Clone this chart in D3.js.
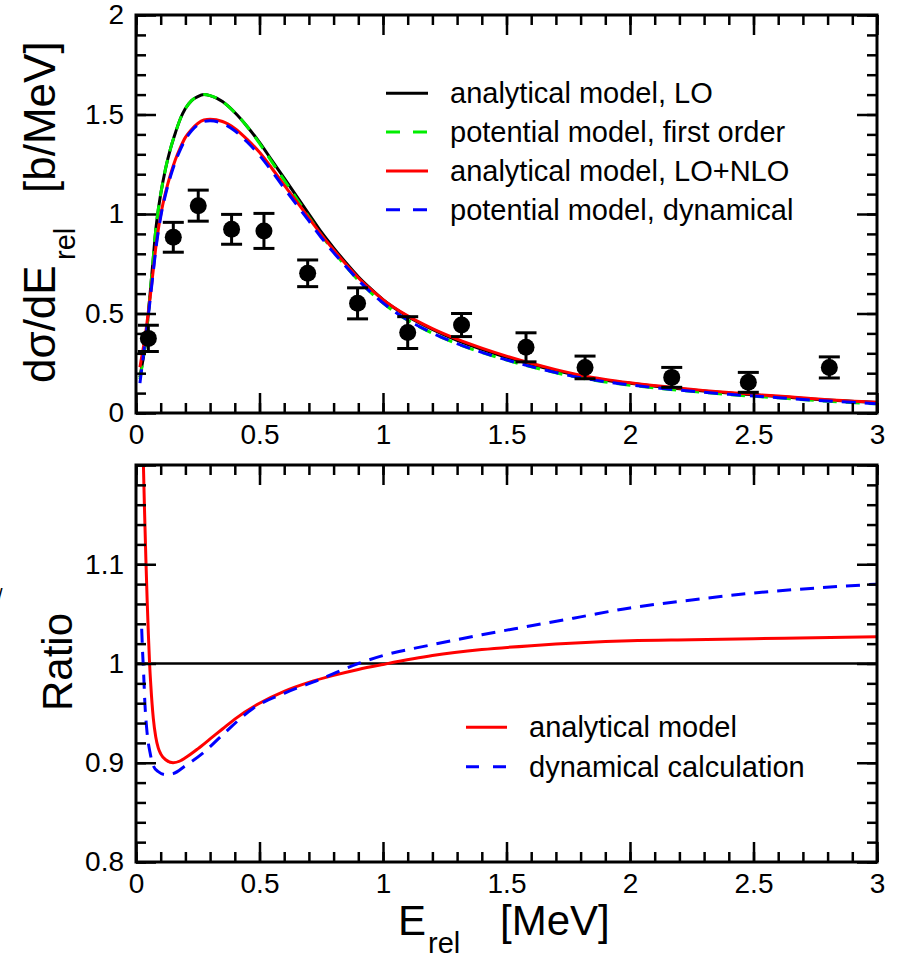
<!DOCTYPE html>
<html>
<head>
<meta charset="utf-8">
<script src="https://cdn.jsdelivr.net/npm/d3@7"></script>
<style>
  body { margin: 0; background: #fff; }
  svg { font-family: "Liberation Sans", Arial, Helvetica, sans-serif; }
</style>
</head>
<body>
<svg id="chart" width="899" height="956"></svg>
<script>
// measured points: E_rel (MeV), dsigma/dE (b/MeV), error
var dataE   = [0.05, 0.151, 0.252, 0.387, 0.518, 0.695, 0.897, 1.10, 1.318, 1.579, 1.818, 2.169, 2.479, 2.807];
var dataY   = [0.375, 0.883, 1.042, 0.923, 0.915, 0.702, 0.551, 0.404, 0.442, 0.330, 0.229, 0.179, 0.154, 0.229];
var dataErr = [0.066, 0.075, 0.078, 0.075, 0.088, 0.067, 0.078, 0.080, 0.058, 0.073, 0.057, 0.050, 0.050, 0.053];

// theory curves, top panel
var curveE = [0.016, 0.02, 0.03, 0.04, 0.05, 0.06, 0.07, 0.08, 0.09, 0.10, 0.12, 0.14, 0.16, 0.18, 0.20, 0.225, 0.25, 0.275,
  0.30, 0.35, 0.40, 0.45, 0.50, 0.55, 0.60, 0.65, 0.70, 0.75, 0.80, 0.85, 0.90, 0.95, 1.00, 1.10, 1.20, 1.30, 1.40, 1.50,
  1.60, 1.70, 1.80, 1.90, 2.00, 2.20, 2.40, 2.60, 2.80, 3.00];
var analyticalLO = [0.18, 0.21, 0.28, 0.37, 0.50, 0.64, 0.78, 0.92, 1.02, 1.10, 1.23, 1.33, 1.41, 1.48, 1.53, 1.57, 1.59, 1.60,
  1.595, 1.565, 1.51, 1.44, 1.36, 1.27, 1.18, 1.09, 1.00, 0.91, 0.83, 0.755, 0.685, 0.625, 0.57, 0.485, 0.42, 0.365, 0.32, 0.28,
  0.245, 0.213, 0.186, 0.165, 0.149, 0.122, 0.100, 0.083, 0.065, 0.053];
var potentialFirst = [0.17, 0.20, 0.28, 0.37, 0.50, 0.64, 0.78, 0.92, 1.02, 1.10, 1.23, 1.33, 1.41, 1.48, 1.53, 1.57, 1.59, 1.60,
  1.595, 1.565, 1.51, 1.44, 1.355, 1.262, 1.17, 1.078, 0.985, 0.895, 0.812, 0.736, 0.667, 0.606, 0.552, 0.466, 0.401, 0.348, 0.304, 0.266,
  0.232, 0.202, 0.176, 0.156, 0.140, 0.114, 0.093, 0.076, 0.059, 0.046];
var analyticalNLO = [0.23, 0.26, 0.33, 0.41, 0.51, 0.61, 0.72, 0.83, 0.92, 0.995, 1.11, 1.20, 1.275, 1.335, 1.385, 1.425, 1.455, 1.472,
  1.476, 1.465, 1.43, 1.375, 1.31, 1.23, 1.145, 1.063, 0.98, 0.896, 0.82, 0.748, 0.68, 0.622, 0.57, 0.488, 0.424, 0.371, 0.326, 0.286,
  0.25, 0.218, 0.19, 0.169, 0.152, 0.125, 0.103, 0.085, 0.067, 0.054];
var potentialDyn = [0.15, 0.19, 0.29, 0.39, 0.49, 0.60, 0.71, 0.82, 0.91, 0.985, 1.10, 1.19, 1.265, 1.325, 1.375, 1.418, 1.448, 1.465,
  1.468, 1.455, 1.418, 1.362, 1.295, 1.215, 1.13, 1.047, 0.965, 0.882, 0.806, 0.736, 0.668, 0.607, 0.553, 0.467, 0.402, 0.349, 0.305, 0.267,
  0.233, 0.203, 0.177, 0.157, 0.141, 0.115, 0.094, 0.077, 0.060, 0.047];

// ratio panel
var ratioAnaE = [0.025, 0.03, 0.035, 0.04, 0.045, 0.05, 0.055, 0.06, 0.07, 0.08, 0.09, 0.10, 0.12, 0.15, 0.18, 0.20, 0.25, 0.30,
  0.35, 0.40, 0.50, 0.60, 0.70, 0.80, 0.90, 1.00, 1.20, 1.40, 1.60, 1.80, 2.00, 2.25, 2.50, 2.75, 3.00];
var ratioAna = [1.27, 1.20, 1.15, 1.105, 1.065, 1.03, 1.00, 0.978, 0.945, 0.926, 0.915, 0.909, 0.903, 0.900, 0.902, 0.905, 0.914, 0.924,
  0.934, 0.944, 0.960, 0.972, 0.981, 0.988, 0.994, 0.999, 1.008, 1.014, 1.018, 1.021, 1.023, 1.024, 1.025, 1.026, 1.027];
var ratioDynE = [0.023, 0.027, 0.03, 0.036, 0.045, 0.057, 0.07, 0.09, 0.12, 0.15, 0.20, 0.272, 0.35, 0.475, 0.60, 0.745, 0.90, 1.00,
  1.20, 1.40, 1.60, 1.80, 2.00, 2.25, 2.50, 2.75, 3.00];
var ratioDyn = [1.035, 1.01, 0.995, 0.96, 0.93, 0.91, 0.897, 0.891, 0.888, 0.889, 0.897, 0.91, 0.928, 0.955, 0.970, 0.984, 1.000, 1.008,
  1.019, 1.029, 1.038, 1.047, 1.056, 1.064, 1.071, 1.076, 1.080];

var xTicks = [0, 0.5, 1, 1.5, 2, 2.5, 3];
var topYTicks = [0, 0.5, 1, 1.5, 2];
var botYTicks = [0.8, 0.9, 1, 1.1, 1.2];
var botYLabels = ["0.8", "0.9", "1", "1.1", ""];

var topLegend = ["analytical model, LO", "potential model, first order", "analytical model, LO+NLO", "potential model, dynamical"];
var botLegend = ["analytical model", "dynamical calculation"];

var svg = d3.select("#chart");
var left = 136, right = 877;
var x = d3.scaleLinear().domain([0, 3]).range([left, right]);
var yTop = d3.scaleLinear().domain([0, 2]).range([413, 15]);
var yBot = d3.scaleLinear().domain([0.8, 1.2]).range([862, 465]);

var xMinor = d3.range(0, 31).map(function(i) { return i / 10; });

// draws the frame + inward ticks for one panel
function frame(y, yMajor, yMinor, yFmt) {
  var g = svg.append("g");
  var y0 = y.range()[0], y1 = y.range()[1];

  function style(a) {
    a.select(".domain").remove();
    a.selectAll("line").attr("stroke", "#000").attr("stroke-width", 2.5);
    a.selectAll("text").attr("font-size", 28).attr("fill", "#000")
      .attr("font-family", "'Liberation Sans', Arial, sans-serif");
  }
  g.append("g").attr("transform", "translate(0," + y0 + ")")
    .call(d3.axisBottom(x).tickValues(xTicks).tickSize(-20).tickPadding(11).tickFormat(function(d) { return d; })).call(style);
  g.append("g").attr("transform", "translate(0," + y0 + ")")
    .call(d3.axisBottom(x).tickValues(xMinor).tickSize(-10).tickFormat("")).call(style);
  g.append("g").attr("transform", "translate(0," + y1 + ")")
    .call(d3.axisTop(x).tickValues(xTicks).tickSize(-20).tickFormat("")).call(style);
  g.append("g").attr("transform", "translate(0," + y1 + ")")
    .call(d3.axisTop(x).tickValues(xMinor).tickSize(-10).tickFormat("")).call(style);

  g.append("g").attr("transform", "translate(" + left + ",0)")
    .call(d3.axisLeft(y).tickValues(yMajor).tickSize(-20).tickPadding(12).tickFormat(yFmt)).call(style);
  g.append("g").attr("transform", "translate(" + left + ",0)")
    .call(d3.axisLeft(y).tickValues(yMinor).tickSize(-10).tickFormat("")).call(style);
  g.append("g").attr("transform", "translate(" + right + ",0)")
    .call(d3.axisRight(y).tickValues(yMajor).tickSize(-20).tickFormat("")).call(style);
  g.append("g").attr("transform", "translate(" + right + ",0)")
    .call(d3.axisRight(y).tickValues(yMinor).tickSize(-10).tickFormat("")).call(style);

  g.append("rect").attr("x", left).attr("y", y1).attr("width", right - left).attr("height", y0 - y1)
    .attr("fill", "none").attr("stroke", "#000").attr("stroke-width", 3);
}

function clip(id, y) {
  svg.append("clipPath").attr("id", id).append("rect")
    .attr("x", left).attr("y", y.range()[1]).attr("width", right - left).attr("height", y.range()[0] - y.range()[1]);
}
clip("clipTop", yTop);
clip("clipBot", yBot);

function curve(xs, ys, y, color, dash, clipId) {
  var line = d3.line().x(function(d) { return x(d[0]); }).y(function(d) { return y(d[1]); }).curve(d3.curveMonotoneX);
  svg.append("path").datum(d3.zip(xs, ys))
    .attr("d", line).attr("fill", "none").attr("stroke", color).attr("stroke-width", 3)
    .attr("stroke-dasharray", dash).attr("clip-path", "url(#" + clipId + ")");
}

// ---- top panel ----
curve(curveE, analyticalLO, yTop, "#000", null, "clipTop");
curve(curveE, potentialFirst, yTop, "#00ee00", "14,9", "clipTop");
curve(curveE, analyticalNLO, yTop, "#ff0000", null, "clipTop");
curve(curveE, potentialDyn, yTop, "#0000ff", "14,9", "clipTop");

var pts = svg.append("g").selectAll("g").data(d3.range(dataE.length)).enter().append("g");
pts.append("line")
  .attr("x1", function(i) { return x(dataE[i]); }).attr("x2", function(i) { return x(dataE[i]); })
  .attr("y1", function(i) { return yTop(dataY[i] - dataErr[i]); }).attr("y2", function(i) { return yTop(dataY[i] + dataErr[i]); })
  .attr("stroke", "#000").attr("stroke-width", 3);
[-1, 1].forEach(function(s) {
  pts.append("line")
    .attr("x1", function(i) { return x(dataE[i]) - 10.5; }).attr("x2", function(i) { return x(dataE[i]) + 10.5; })
    .attr("y1", function(i) { return yTop(dataY[i] + s * dataErr[i]); }).attr("y2", function(i) { return yTop(dataY[i] + s * dataErr[i]); })
    .attr("stroke", "#000").attr("stroke-width", 3);
});
pts.append("circle")
  .attr("cx", function(i) { return x(dataE[i]); }).attr("cy", function(i) { return yTop(dataY[i]); })
  .attr("r", 8.5).attr("fill", "#000");

frame(yTop, topYTicks, d3.range(0, 21).map(function(i) { return i / 10; }), function(d) { return d; });

// top legend
var legColors = ["#000", "#00ee00", "#ff0000", "#0000ff"];
var legDash = [null, "14,13", null, "14,13"];
var leg = svg.append("g").selectAll("g").data(topLegend).enter().append("g")
  .attr("transform", function(d, i) { return "translate(0," + (93.3 + i * 38.8) + ")"; });
leg.append("line").attr("x1", 386).attr("x2", 428).attr("y1", 0).attr("y2", 0)
  .attr("stroke", function(d, i) { return legColors[i]; }).attr("stroke-width", 3)
  .attr("stroke-dasharray", function(d, i) { return legDash[i]; });
leg.append("text").attr("x", 450).attr("y", 10).attr("font-size", 29).text(function(d) { return d; });

// top y title
var yt = svg.append("text").attr("transform", "translate(55,383) rotate(-90)").attr("font-size", 44);
yt.append("tspan").attr("x", 0).text("dσ/dE");
yt.append("tspan").attr("x", 123).attr("font-size", 29).attr("dy", 20).text("rel");
yt.append("tspan").attr("x", 190).attr("dy", -20).text("[b/MeV]");

// ---- ratio panel ----
svg.append("line").attr("x1", x(0)).attr("x2", x(3)).attr("y1", yBot(1)).attr("y2", yBot(1))
  .attr("stroke", "#000").attr("stroke-width", 2.5);
curve(ratioAnaE, ratioAna, yBot, "#ff0000", null, "clipBot");
curve(ratioDynE, ratioDyn, yBot, "#0000ff", "14,9", "clipBot");

frame(yBot, botYTicks, d3.range(0, 21).map(function(i) { return 0.8 + i * 0.02; }),
  function(d, i) { return botYLabels[i]; });

var leg2Colors = ["#ff0000", "#0000ff"];
var leg2 = svg.append("g").selectAll("g").data(botLegend).enter().append("g")
  .attr("transform", function(d, i) { return "translate(0," + (727.3 + i * 39.4) + ")"; });
leg2.append("line").attr("x1", 466).attr("x2", 507).attr("y1", 0).attr("y2", 0)
  .attr("stroke", function(d, i) { return leg2Colors[i]; }).attr("stroke-width", 3)
  .attr("stroke-dasharray", function(d, i) { return i ? "13,14" : null; });
leg2.append("text").attr("x", 529).attr("y", 10).attr("font-size", 29).text(function(d) { return d; });

svg.append("text").attr("transform", "translate(72,662) rotate(-90)").attr("text-anchor", "middle")
  .attr("font-size", 42).text("Ratio");

var xt = svg.append("text").attr("y", 935).attr("font-size", 42);
xt.append("tspan").attr("x", 398).text("E");
xt.append("tspan").attr("x", 428).attr("dy", 18).attr("font-size", 29).text("rel");
xt.append("tspan").attr("x", 500).attr("dy", -18).text("[MeV]");

// stray glyph at the left edge of the original figure
svg.append("text").attr("x", -3).attr("y", 603).attr("font-size", 20).text("/");
</script>
</body>
</html>
